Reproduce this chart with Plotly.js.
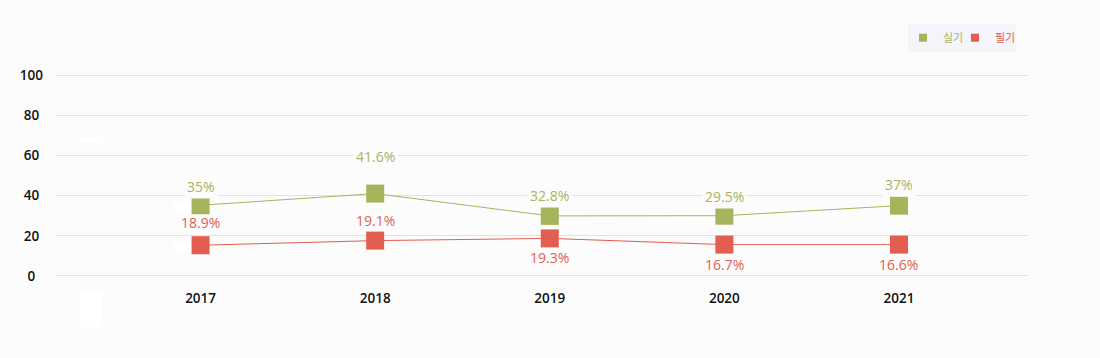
<!DOCTYPE html>
<html><head><meta charset="utf-8">
<script src="https://cdn.plot.ly/plotly-3.0.1.min.js"></script>
<style>html,body{margin:0;padding:0;background:#fcfcfc;}#chart{width:1100px;height:358px;}</style>
</head><body><div id="chart"></div>
<script>
// Data
const years = ['2017', '2018', '2019', '2020', '2021'];
const practicalValues = [35.2, 41.0, 29.9, 30.0, 35.0];   // 실기 (marker heights)
const practicalLabels = ['35%', '41.6%', '32.8%', '29.5%', '37%'];
const writtenValues = [15.3, 17.6, 18.7, 15.6, 15.6];      // 필기 (marker heights)
const writtenLabels = ['18.9%', '19.1%', '19.3%', '16.7%', '16.6%'];
const yTicks = [0, 20, 40, 60, 80, 100];
const seriesNames = ['실기', '필기'];

// Styles
const GREEN = '#a7b45b', RED = '#e25e50', BG = '#fcfcfc';
const practicalShift = [19, 37, 20, 19, 21];
const writtenShift = [23, 20, -19.5, -20, -20];
const FONT = '"Open Sans", "Noto Sans", sans-serif';

// centre the y tick labels (pad shorter labels on the right)
const yTickText = yTicks.map(v => {
  const s = String(v);
  return s.length === 1 ? s + '\u2007' : (s.length === 2 ? s + '\u2008' : s);
});

const traces = [
  {x: years, y: practicalValues, type: 'scatter', mode: 'lines+markers', showlegend: false,
   line: {color: GREEN, width: 1}, marker: {symbol: 'square', size: 18, color: GREEN}, hoverinfo: 'skip'},
  {x: years, y: writtenValues, type: 'scatter', mode: 'lines+markers', showlegend: false,
   line: {color: RED, width: 1}, marker: {symbol: 'square', size: 18, color: RED}, hoverinfo: 'skip'},
  {x: [null], y: [null], type: 'scatter', mode: 'markers', name: seriesNames[0], legend: 'legend',
   marker: {symbol: 'square', size: 8, color: GREEN}, hoverinfo: 'skip'},
  {x: [null], y: [null], type: 'scatter', mode: 'markers', name: seriesNames[1], legend: 'legend2',
   marker: {symbol: 'square', size: 8, color: RED}, hoverinfo: 'skip'}
];

const annotations = [];
function addLabels(vals, labels, shifts, color, bg) {
  vals.forEach((v, i) => annotations.push({
    x: i, y: v, xref: 'x', yref: 'y', text: labels[i], showarrow: false,
    yshift: shifts[i], yanchor: 'middle', xanchor: 'center',
    font: {family: FONT, size: 14, color: color}, bgcolor: bg, borderpad: 2
  }));
}
addLabels(practicalValues, practicalLabels, practicalShift, GREEN, BG);
addLabels(writtenValues, writtenLabels, writtenShift, RED, 'rgba(0,0,0,0)');

// pixel -> paper helpers for decorative shapes
const L = 56, R = 1028, T = 72, B = 279;
const px = v => (v - L) / (R - L);
const py = v => (B - v) / (B - T);
const rect = (x0, x1, y0, y1, fill) => ({type: 'rect', xref: 'paper', yref: 'paper', layer: 'below',
  x0: px(x0), x1: px(x1), y0: py(y1), y1: py(y0), fillcolor: fill, line: {width: 0}});

const layout = {
  width: 1100, height: 358,
  margin: {l: L, r: 1100 - R, t: T, b: 358 - B, pad: 0},
  paper_bgcolor: BG, plot_bgcolor: 'rgba(0,0,0,0)',
  font: {family: FONT, color: '#111'},
  xaxis: {type: 'category', range: [-0.828, 4.739], showgrid: false, zeroline: false, showline: false,
    ticks: '', tickfont: {family: FONT, size: 13.5, color: '#111', weight: 600}, ticklabelstandoff: 9, fixedrange: true},
  yaxis: {range: [-1.5, 101.5], tickvals: yTicks, ticktext: yTickText, showgrid: true, gridcolor: '#e2e2e2', gridwidth: 1,
    zeroline: false, showline: false, ticks: '', ticklabelstandoff: 12,
    tickfont: {family: FONT, size: 13.5, color: '#111', weight: 600}, fixedrange: true},
  showlegend: true,
  legend: {orientation: 'h', x: px(903), xanchor: 'left', y: py(37.7), yanchor: 'middle',
    bgcolor: 'rgba(0,0,0,0)', font: {family: '"Noto Sans CJK KR", sans-serif', size: 11, color: GREEN}, itemwidth: 30},
  legend2: {orientation: 'h', x: px(955), xanchor: 'left', y: py(37.7), yanchor: 'middle',
    bgcolor: 'rgba(0,0,0,0)', font: {family: '"Noto Sans CJK KR", sans-serif', size: 11, color: RED}, itemwidth: 30},
  shapes: [
    rect(908, 1016, 24, 51.7, '#f4f5fa'),
    rect(79, 102, 291, 327, '#ffffff'),
    rect(79, 102, 137, 141, '#ffffff'),
    rect(172, 192, 203, 211, '#ffffff'),
    rect(172, 192, 243, 251, '#ffffff')
  ],
  annotations: annotations,
  hovermode: false
};

Plotly.newPlot('chart', traces, layout, {displayModeBar: false, staticPlot: true});
</script>
</body></html>
